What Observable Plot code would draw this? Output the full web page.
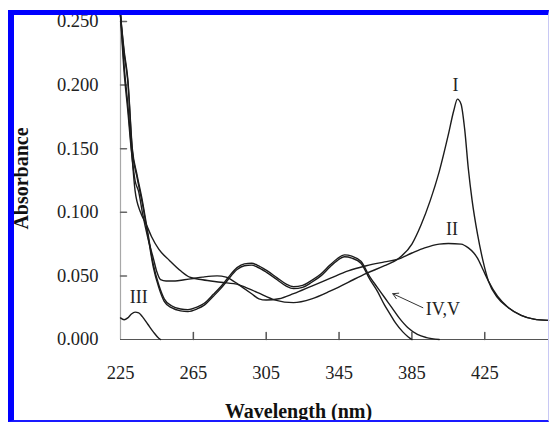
<!DOCTYPE html>
<html>
<head>
<meta charset="utf-8">
<script src="https://cdn.jsdelivr.net/npm/d3@7"></script>
<script src="https://cdn.jsdelivr.net/npm/@observablehq/plot@0.6"></script>
<style>
  html, body { margin: 0; padding: 0; background: white; }
  #wrap { position: relative; width: 550px; height: 422px; overflow: hidden; background: white; }
  #wrap svg { position: absolute; left: 0; top: 0; }
  #border { position: absolute; left: 8px; top: 10px; width: 541px; height: 412px; box-sizing: border-box;
    border-left: 6px solid #0000ff; border-top: 5px solid #0000ff; border-right: 1px solid #c8c8f4; border-bottom: 2px solid #1a1aff; pointer-events: none; }
</style>
</head>
<body>
<div id="wrap"><div id="border"></div></div>
<script>
// Tick values
const xTicks = [225, 265, 305, 345, 385, 425];
const yTicks = [0, 0.05, 0.10, 0.15, 0.20, 0.25];

// Spectrum I
const wlI = [225,227,229,231,233,236,239,242,246,252,258,263,270,280,290,300,310,320,330,340,350,360,370,377,385,390,395,400,405,408,410,412,414,416,418,421,424,427,432,438,445,452,460];
const absI = [0.255,0.215,0.185,0.150,0.117,0.100,0.091,0.081,0.071,0.062,0.054,0.049,0.047,0.045,0.043,0.037,0.031,0.029,0.032,0.038,0.045,0.052,0.058,0.063,0.075,0.090,0.109,0.132,0.161,0.180,0.189,0.185,0.165,0.134,0.110,0.083,0.062,0.046,0.033,0.025,0.019,0.016,0.015];

// Spectrum II
const wlII = [225,227,229,231,233,235,237,240,243,245,247,250,255,260,265,270,278,283,288,292,297,301,305,312,320,330,340,350,360,370,377,385,392,400,405,412,416,419,421,424,427,432,438,445,452,460];
const absII = [0.255,0.210,0.180,0.148,0.125,0.116,0.100,0.080,0.064,0.053,0.047,0.046,0.046,0.047,0.048,0.049,0.050,0.049,0.045,0.041,0.036,0.032,0.031,0.032,0.036,0.042,0.048,0.054,0.058,0.061,0.063,0.068,0.072,0.075,0.0755,0.075,0.072,0.068,0.064,0.055,0.046,0.034,0.025,0.019,0.016,0.015];

// Spectrum III
const wlIII = [225,227,229,231,233,235,237,240,243,246,247];
const absIII = [0.017,0.0155,0.017,0.020,0.0215,0.021,0.018,0.012,0.006,0.001,0];

// Spectrum IV
const wlIV = [225,227,229,231.5,234,237,240,243,246,249,253,258,262,267,271,276,280,284,289,293,297,300,305,311,316,320,325,330,335,340,344,348,352,357,362,366,370,373,376,380,383,385];
const absIV = [0.255,0.225,0.203,0.148,0.128,0.107,0.082,0.057,0.041,0.030,0.025,0.0225,0.022,0.024,0.027,0.034,0.040,0.047,0.055,0.058,0.0585,0.057,0.053,0.047,0.042,0.040,0.041,0.045,0.050,0.057,0.062,0.065,0.064,0.060,0.047,0.038,0.027,0.020,0.013,0.006,0.002,0];

// Spectrum V
const wlV = [225,227,229,231.5,234,237,240,243,246,249,253,258,262,267,271,276,280,284,289,293,297,300,305,311,316,320,325,330,335,340,344,348,352,357,362,366,370,374,378,383,388,393,400];
const absV = [0.255,0.227,0.205,0.150,0.130,0.109,0.084,0.059,0.043,0.032,0.0265,0.024,0.0235,0.0255,0.0285,0.0355,0.0415,0.0485,0.0565,0.0595,0.060,0.0585,0.0545,0.0485,0.0435,0.0415,0.0425,0.0465,0.0515,0.0585,0.0635,0.0665,0.0655,0.0615,0.049,0.041,0.033,0.025,0.017,0.009,0.004,0.0015,0];

// Curve labels
const labelText = ["I", "II", "III", "IV,V"];
const labelX = [409, 407, 235, 402];
const labelY = [0.200, 0.087, 0.033, 0.024];

// Arrow for IV,V
const arrowFrom = [391, 0.025];
const arrowTo = [374.5, 0.036];

const series = [
  ["I", wlI, absI], ["II", wlII, absII], ["III", wlIII, absIII], ["IV", wlIV, absIV], ["V", wlV, absV]
];
const rows = series.flatMap(([name, xs, ys]) => xs.map((x, i) => ({name, x, y: ys[i]})));
const labels = labelText.map((t, i) => ({t, x: labelX[i], y: labelY[i]}));

const tickShape = {draw(context, l) { context.moveTo(0, 0); context.lineTo(0, -l); }};

const chart = Plot.plot({
  width: 550, height: 422,
  marginLeft: 120, marginRight: 2, marginTop: 21, marginBottom: 83,
  x: {domain: [225, 460]},
  y: {domain: [0, 0.25]},
  style: {fontFamily: "'Liberation Serif', serif", fontSize: "18.5px", color: "#222", background: "transparent", overflow: "visible"},
  marks: [
    Plot.ruleX([225], {y1: 0, y2: 0.254, stroke: "#a8a8a8", strokeWidth: 1.2}),
    Plot.ruleY([0], {stroke: "#555", strokeWidth: 1.2}),
    Plot.vector(yTicks.slice(1), {x: 225, y: d => d, length: 6, rotate: 90, anchor: "start", shape: tickShape, stroke: "#666"}),
    Plot.vector(xTicks.slice(1), {x: d => d, y: 0, length: 7, rotate: 0, anchor: "start", shape: tickShape, stroke: "#555"}),
    Plot.axisY(yTicks, {tickSize: 0, tickPadding: 22, tickFormat: d3.format(".3f"), label: null, fill: "#222"}),
    Plot.axisX(xTicks, {tickSize: 0, tickPadding: 26, label: null, fill: "#222"}),
    Plot.line(rows, {x: "x", y: "y", z: "name", stroke: "#1c1c1c", strokeWidth: 1.4, curve: "monotone-x"}),
    Plot.text(labels, {x: "x", y: "y", text: "t", fontSize: 18, fill: "#222"}),
    Plot.arrow([{x1: arrowFrom[0], y1: arrowFrom[1], x2: arrowTo[0], y2: arrowTo[1]}], {x1: "x1", y1: "y1", x2: "x2", y2: "y2", stroke: "#333", strokeWidth: 1, headLength: 9}),
    Plot.text(["Absorbance"], {text: d => d, frameAnchor: "left", textAnchor: "middle", lineAnchor: "middle", rotate: -90, dx: -99, dy: -2, fontWeight: "bold", fontSize: 20, fill: "#111"}),
    Plot.text(["Wavelength (nm)"], {text: d => d, frameAnchor: "bottom", textAnchor: "middle", lineAnchor: "middle", dx: -36, dy: 72, fontWeight: "bold", fontSize: 20, fill: "#111"})
  ]
});
document.getElementById("wrap").insertBefore(chart, document.getElementById("border"));
</script>
</body>
</html>
